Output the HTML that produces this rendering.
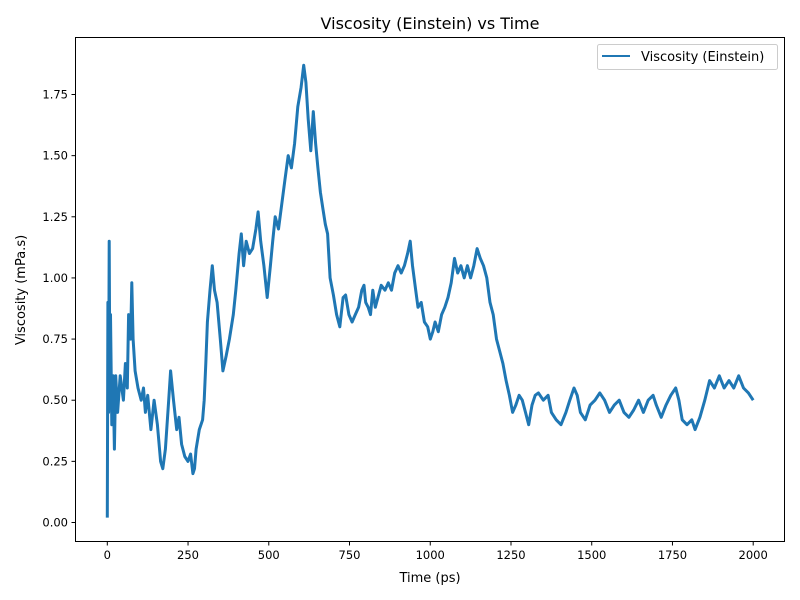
<!DOCTYPE html>
<html><head><meta charset="utf-8"><style>
body{margin:0;background:#fff}
svg{display:block;font-family:"DejaVu Sans","Liberation Sans",sans-serif}
</style></head><body>
<svg id="chart" width="800" height="600">
<rect width="800" height="600" fill="#fff"/>
<text x="430" y="29" text-anchor="middle" font-size="16">Viscosity (Einstein) vs Time</text>
<g id="ticks"></g>
<g id="plot"></g>
<rect x="75.5" y="37.5" width="709" height="504" fill="none" stroke="#000" stroke-width="1"/>
<text x="430" y="582" text-anchor="middle" font-size="13">Time (ps)</text>
<text transform="translate(25,290) rotate(-90)" text-anchor="middle" font-size="13">Viscosity (mPa.s)</text>
<g>
<rect x="597.5" y="44.5" width="180" height="25" rx="2" fill="#fff" stroke="#ccc"/>
<line x1="602" y1="56" x2="630" y2="56" stroke="#1f77b4" stroke-width="2"/>
<text x="641" y="61" font-size="13">Viscosity (Einstein)</text>
</g>
</svg>
<script>
const times=[0,2,4,6,8,10,14,18,22,26,32,40,50,56,62,66,72,76,80,86,95,105,112,118,125,135,145,155,165,172,180,190,196,205,215,222,230,240,250,258,265,270,275,285,295,300,305,310,318,325,332,340,350,358,368,378,390,398,408,415,422,430,440,450,460,467,475,485,495,505,512,520,530,540,550,560,570,580,590,600,608,615,622,630,638,645,652,660,668,675,682,690,700,710,720,730,738,748,758,768,778,788,795,800,808,815,822,830,840,848,860,870,880,890,900,910,920,930,938,945,955,962,972,982,992,1000,1008,1015,1025,1035,1045,1055,1065,1075,1085,1095,1105,1115,1125,1135,1145,1155,1165,1175,1185,1195,1205,1215,1225,1235,1245,1255,1265,1275,1285,1295,1305,1315,1325,1335,1350,1365,1375,1390,1405,1420,1432,1445,1455,1465,1480,1495,1510,1525,1540,1555,1570,1585,1600,1615,1630,1645,1660,1675,1690,1700,1715,1730,1745,1760,1770,1780,1795,1810,1820,1835,1850,1865,1880,1895,1910,1925,1940,1955,1970,1985,2000];
const viscosity=[0.02,0.9,0.45,1.15,0.5,0.85,0.4,0.6,0.3,0.6,0.45,0.6,0.5,0.65,0.55,0.85,0.75,0.98,0.75,0.62,0.55,0.5,0.55,0.45,0.52,0.38,0.5,0.4,0.25,0.22,0.3,0.5,0.62,0.5,0.38,0.43,0.32,0.27,0.25,0.28,0.2,0.22,0.3,0.38,0.42,0.5,0.65,0.82,0.95,1.05,0.95,0.9,0.75,0.62,0.68,0.75,0.85,0.95,1.1,1.18,1.05,1.15,1.1,1.12,1.2,1.27,1.15,1.05,0.92,1.05,1.15,1.25,1.2,1.3,1.4,1.5,1.45,1.55,1.7,1.78,1.87,1.8,1.65,1.52,1.68,1.55,1.45,1.35,1.28,1.22,1.18,1.0,0.93,0.85,0.8,0.92,0.93,0.85,0.82,0.85,0.88,0.95,0.97,0.9,0.88,0.85,0.95,0.88,0.93,0.97,0.95,0.98,0.95,1.02,1.05,1.02,1.05,1.1,1.15,1.05,0.95,0.88,0.9,0.82,0.8,0.75,0.78,0.82,0.78,0.85,0.88,0.92,0.98,1.08,1.02,1.05,1.0,1.05,1.0,1.05,1.12,1.08,1.05,1.0,0.9,0.85,0.75,0.7,0.65,0.58,0.52,0.45,0.48,0.52,0.5,0.45,0.4,0.48,0.52,0.53,0.5,0.52,0.45,0.42,0.4,0.45,0.5,0.55,0.52,0.45,0.42,0.48,0.5,0.53,0.5,0.45,0.48,0.5,0.45,0.43,0.46,0.5,0.45,0.5,0.52,0.48,0.43,0.48,0.52,0.55,0.5,0.42,0.4,0.42,0.38,0.43,0.5,0.58,0.55,0.6,0.55,0.58,0.55,0.6,0.55,0.53,0.5];
const xTicks=[0,250,500,750,1000,1250,1500,1750,2000];
const yTicks=[0,0.25,0.5,0.75,1.0,1.25,1.5,1.75];
const X=t=>107.3+t*(753.2-107.3)/2000;
const Y=v=>522.5-v*(522.5-94.5)/1.75;
const NS="http://www.w3.org/2000/svg";
const tk=document.getElementById('ticks');
xTicks.forEach(t=>{
  const l=document.createElementNS(NS,'line');
  l.setAttribute('x1',X(t));l.setAttribute('x2',X(t));l.setAttribute('y1',541.5);l.setAttribute('y2',545.5);l.setAttribute('stroke','#000');
  
  
  tk.appendChild(l);
  const s=document.createElementNS(NS,'text');
  s.setAttribute('x',X(t));s.setAttribute('y',559);s.setAttribute('text-anchor','middle');s.setAttribute('font-size','11.5');
  s.textContent=String(t);
  
  
  tk.appendChild(s);
});
yTicks.forEach(v=>{
  const l=document.createElementNS(NS,'line');
  l.setAttribute('x1',71.5);l.setAttribute('x2',75.5);l.setAttribute('y1',Y(v));l.setAttribute('y2',Y(v));l.setAttribute('stroke','#000');
  
  
  tk.appendChild(l);
  const s=document.createElementNS(NS,'text');
  s.setAttribute('x',68);s.setAttribute('y',Y(v)+4);s.setAttribute('text-anchor','end');s.setAttribute('font-size','11.5');
  s.textContent=v.toFixed(2);
  
  
  tk.appendChild(s);
});
const p=document.createElementNS(NS,'path');
p.setAttribute('d',times.map((t,i)=>(i?'L':'M')+X(t).toFixed(1)+','+Y(viscosity[i]).toFixed(1)).join(''));
p.setAttribute('fill','none');p.setAttribute('stroke','#1f77b4');p.setAttribute('stroke-width','3');p.setAttribute('stroke-linejoin','round');


document.getElementById('plot').appendChild(p);
</script>
</body></html>
